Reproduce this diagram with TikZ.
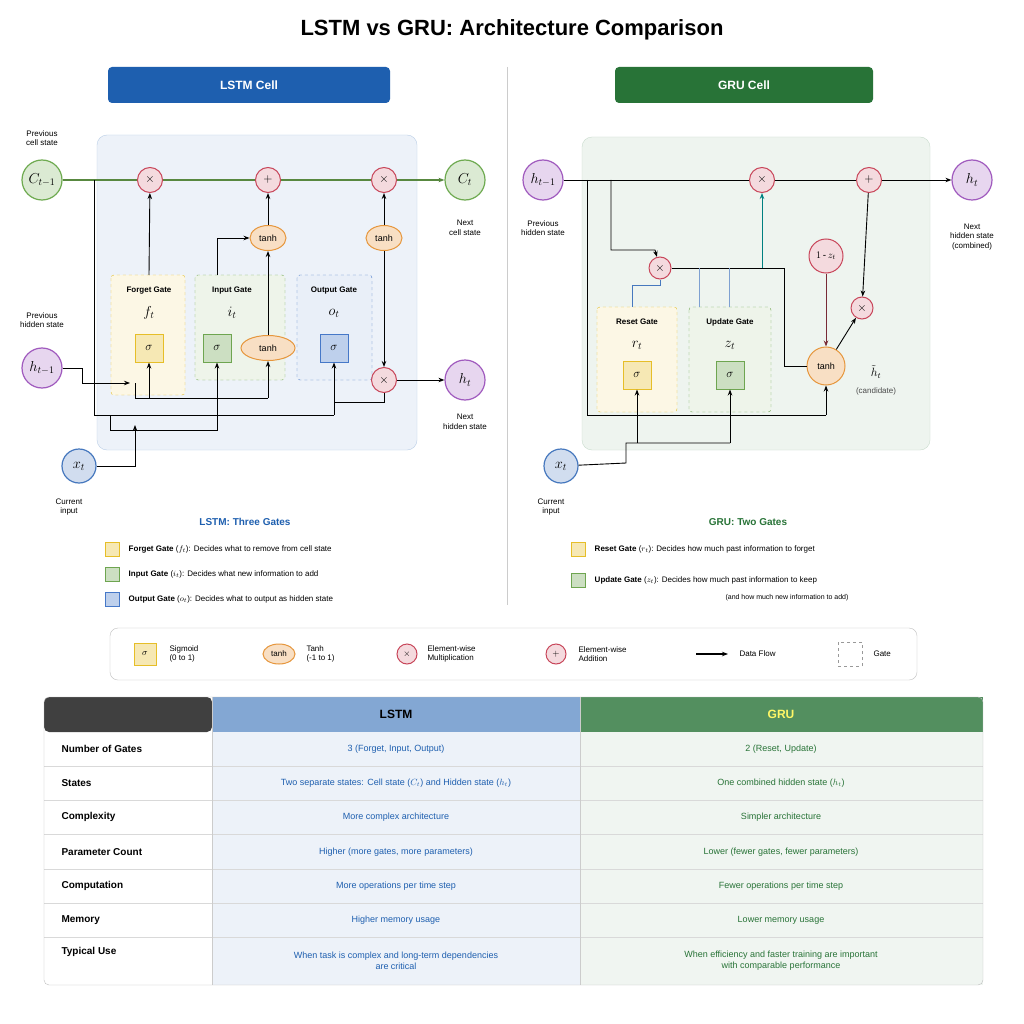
\documentclass[tikz,border=0pt]{standalone}
\usepackage{fontspec}
\setmainfont{Liberation Sans}
\usepackage{tikz}
\usetikzlibrary{arrows.meta,positioning,calc,shapes.geometric}
\definecolor{lstmblue}{RGB}{30,95,175}
\definecolor{grugreen}{RGB}{40,115,55}
\definecolor{cellgreen}{RGB}{110,170,80}
\definecolor{hidpurple}{RGB}{160,90,190}
\definecolor{xblue}{RGB}{70,120,190}
\definecolor{opred}{RGB}{200,70,90}
\definecolor{tanhorange}{RGB}{230,150,60}
\definecolor{gateyellow}{RGB}{230,190,40}
\definecolor{gategreen}{RGB}{110,165,80}
\definecolor{gateblue}{RGB}{70,120,200}
\tikzset{
  state/.style={draw=#1,line width=1.2pt,fill=#1!25,circle,minimum size=40pt,inner sep=0pt,font=\Large},
  op/.style={draw=opred,line width=1pt,fill=opred!20,circle,minimum size=25pt,inner sep=0pt,font=\bfseries\large},
  tanhnode/.style={draw=tanhorange,line width=1pt,fill=tanhorange!30,ellipse,minimum width=36pt,minimum height=25pt,inner sep=1pt,font=\small},
  sig/.style={draw=#1,line width=1pt,fill=#1!35,minimum size=28pt,inner sep=0pt,font=\large},
  gate/.style={draw=#1,dashed,fill=#1!12,rounded corners=3pt},
  lbl/.style={font=\footnotesize,align=center},
  wire/.style={line width=0.9pt,-{Stealth[length=6pt]}},
  plain/.style={line width=0.9pt},
  key/.style={draw=#1,fill=#1!35,minimum size=14pt,inner sep=0pt},
  cell/.style={font=\small}
}
\begin{document}
\begin{tikzpicture}[x=1pt,y=-1pt]
\useasboundingbox (0,0) rectangle (1024,1024);
\fill[white] (0,0) rectangle (1024,1024);
% title and banners
\node[font=\bfseries\fontsize{22}{26}\selectfont] (title) at (512,30) {LSTM vs GRU: Architecture Comparison};
\node[fill=lstmblue,rounded corners=4pt,minimum width=282pt,minimum height=36pt,text=white,font=\bfseries\large] (lstmhead) at (249,85) {LSTM Cell};
\node[fill=grugreen,rounded corners=4pt,minimum width=258pt,minimum height=36pt,text=white,font=\bfseries\large] (gruhead) at (744,85) {GRU Cell};
\draw[black!20] (507,67) -- (507,605);

%% LSTM cell
\draw[rounded corners=10pt,draw=lstmblue!30,fill=lstmblue!8] (97,135) rectangle (417,450);
\draw[gate=gateyellow] (111,275) rectangle (185,395);
\draw[gate=gategreen] (195,275) rectangle (285,380);
\draw[gate=gateblue] (297,275) rectangle (372,380);
\node[font=\footnotesize\bfseries] (fgt) at (149,291) {Forget Gate};
\node[font=\Large] (ft) at (149,313) {$f_t$};
\node[font=\footnotesize\bfseries] (igt) at (232,291) {Input Gate};
\node[font=\Large] (it) at (232,313) {$i_t$};
\node[font=\footnotesize\bfseries] (ogt) at (334,291) {Output Gate};
\node[font=\Large] (ot) at (334,313) {$o_t$};
\node[sig=gateyellow] (fsig) at (149,348) {$\sigma$};
\node[sig=gategreen] (isig) at (217,348) {$\sigma$};
\node[tanhnode,minimum width=54pt] (itanh) at (268,348) {tanh};
\node[sig=gateblue] (osig) at (334,348) {$\sigma$};

\node[state=cellgreen] (cprev) at (42,180) {$C_{t-1}$};
\node[state=cellgreen] (cnext) at (465,180) {$C_t$};
\node[op] (lmf) at (150,180) {$\times$};
\node[op] (lplus) at (268,180) {$+$};
\node[op] (lmo) at (384,180) {$\times$};
\node[tanhnode] (ctanh) at (268,238) {tanh};
\node[tanhnode] (otanh) at (384,238) {tanh};
\node[state=hidpurple] (hprev) at (42,368) {$h_{t-1}$};
\node[op] (lmh) at (384,380) {$\times$};
\node[state=hidpurple] (hnext) at (465,380) {$h_t$};
\node[state=xblue,minimum size=34pt] (xin) at (79,466) {$x_t$};
\node[lbl] (cprevl) at (42,138) {Previous\\cell state};
\node[lbl] (cnextl) at (465,228) {Next\\cell state};
\node[lbl] (hprevl) at (42,320) {Previous\\hidden state};
\node[lbl] (hnextl) at (465,422) {Next\\hidden state};
\node[lbl] (xinl) at (69,507) {Current\\input};

\draw[line width=1.2pt,draw=cellgreen!80!black] (cprev) -- (lmf) -- (lplus) -- (lmo);
\draw[wire,draw=cellgreen!80!black,line width=1.2pt] (lmo) -- (cnext);
\draw[wire] (149,275) -- (lmf);
\draw[wire] (217,275) |- (ctanh.west);
\draw[wire] (itanh) -- (ctanh);
\draw[wire] (ctanh) -- (lplus);
\draw[wire] (otanh) -- (lmo);
\draw[wire] (otanh) -- (lmh);
\draw[wire] (lmh) -- (hnext);
% input buses
\draw[wire] (hprev) -- (82,368) |- (130,383);
\draw[plain] (135,383) -- (135,398) -- (268,398);
\draw[wire] (149,398) -- (fsig);
\draw[wire] (217,398) -- (isig);
\draw[wire] (268,398) -- (itanh);
\draw[plain] (94,180) -- (94,415) -- (334,415);
\draw[wire] (334,415) -- (osig);
\draw[plain] (lmh) -- (384,402) -- (334,402);
\draw[plain] (110,415) -- (110,430) -- (217,430) -- (217,398);
\draw[wire] (xin) -- (135,466) -- (135,425);

%% GRU cell
\draw[rounded corners=10pt,draw=grugreen!25,fill=grugreen!8] (582,137) rectangle (930,450);
\draw[gate=gateyellow] (597,307) rectangle (677,412);
\draw[gate=gategreen] (689,307) rectangle (771,412);
\node[font=\footnotesize\bfseries] (rgt) at (637,322) {Reset Gate};
\node[font=\Large] (rt) at (637,345) {$r_t$};
\node[font=\footnotesize\bfseries] (ugt) at (730,322) {Update Gate};
\node[font=\Large] (zt) at (730,345) {$z_t$};
\node[sig=gateyellow] (rsig) at (637,375) {$\sigma$};
\node[sig=gategreen] (zsig) at (730,375) {$\sigma$};
\node[state=hidpurple] (ghprev) at (543,180) {$h_{t-1}$};
\node[state=hidpurple] (ghnext) at (972,180) {$h_t$};
\node[op] (gma) at (762,180) {$\times$};
\node[op] (gplus) at (869,180) {$+$};
\node[op,minimum size=22pt] (gmb) at (660,268) {$\times$};
\node[op,minimum size=34pt,font=\normalsize] (onez) at (826,256) {$1\,\mbox{-}\,z_t$};
\node[op,minimum size=22pt] (gmc) at (862,308) {$\times$};
\node[draw=tanhorange,line width=1pt,fill=tanhorange!30,circle,minimum size=38pt,inner sep=0pt,font=\small] (gtanh) at (826,366) {tanh};
\node[state=xblue,minimum size=34pt] (gxin) at (561,466) {$x_t$};
\node[lbl] (ghprevl) at (543,228) {Previous\\hidden state};
\node[lbl] (ghnextl) at (972,237) {Next\\hidden state\\(combined)};
\node[lbl] (gxinl) at (551,507) {Current\\input};
\node[font=\large] (htil) at (876,372) {$\tilde h_t$};
\node[lbl,text=black!70] (cand) at (876,391) {(candidate)};

\draw[plain] (ghprev) -- (gma) -- (gplus);
\draw[wire] (gplus) -- (ghnext);
\draw[wire] (611,180) |- (655,250) -- (gmb);
\draw[plain,draw=xblue] (632,307) -- (632,285) -| (gmb.south);
\draw[plain] (gmb) -- (784,268) |- (gtanh);
\draw[wire,draw=teal] (762,268) -- (gma);
\draw[plain,draw=xblue!70] (699,307) -- (699,268);
\draw[plain,draw=xblue!70] (729,307) -- (729,268);
\draw[wire,draw=opred!60!black] (onez) -- (gtanh);
\draw[wire] (gtanh) -- (gmc);
\draw[wire] (gplus) -- (gmc);
\draw[plain] (587,180) -- (587,415) -- (826,415);
\draw[wire] (826,415) -- (gtanh);
\draw[plain] (gxin) -- (626,463) |- (730,443);
\draw[wire] (637,443) -- (rsig);
\draw[wire] (730,443) -- (zsig);

%% gate notes
\node[font=\bfseries,text=lstmblue] (lnote) at (245,522) {LSTM: Three Gates};
\node[key=gateyellow] (k1) at (112,549) {};
\node[key=gategreen] (k2) at (112,574) {};
\node[key=gateblue] (k3) at (112,599) {};
\node[right=6pt of k1,font=\footnotesize] (k1t) {\textbf{Forget Gate} ($f_t$): Decides what to remove from cell state};
\node[right=6pt of k2,font=\footnotesize] (k2t) {\textbf{Input Gate} ($i_t$): Decides what new information to add};
\node[right=6pt of k3,font=\footnotesize] (k3t) {\textbf{Output Gate} ($o_t$): Decides what to output as hidden state};
\node[font=\bfseries,text=grugreen] (gnote) at (748,522) {GRU: Two Gates};
\node[key=gateyellow] (k4) at (578,549) {};
\node[key=gategreen] (k5) at (578,580) {};
\node[right=6pt of k4,font=\footnotesize] (k4t) {\textbf{Reset Gate} ($r_t$): Decides how much past information to forget};
\node[right=6pt of k5,font=\footnotesize] (k5t) {\textbf{Update Gate} ($z_t$): Decides how much past information to keep};
\node[font=\scriptsize] (k5u) at (787,598) {(and how much new information to add)};

%% symbol legend
\draw[rounded corners=8pt,draw=black!25] (110,628) rectangle (917,680);
\node[sig=gateyellow,minimum size=22pt,font=\small] (ls) at (145,654) {$\sigma$};
\node[lbl,align=left,anchor=west] (lst) at (166,654) {Sigmoid\\(0 to 1)};
\node[tanhnode,minimum width=32pt,minimum height=20pt,font=\footnotesize] (lt) at (279,654) {tanh};
\node[lbl,align=left,anchor=west] (ltt) at (303,654) {Tanh\\(-1 to 1)};
\node[op,minimum size=20pt,font=\small\bfseries] (lm) at (407,654) {$\times$};
\node[lbl,align=left,anchor=west] (lmt) at (424,654) {Element-wise\\Multiplication};
\node[op,minimum size=20pt,font=\small\bfseries] (lp) at (556,654) {$+$};
\node[lbl,align=left,anchor=west] (lpt) at (575,654) {Element-wise\\Addition};
\coordinate (la) at (696,654);
\coordinate (lb) at (728,654);
\draw[wire,line width=1.2pt] (la) -- (lb);
\node[lbl,anchor=west] (lat) at (736,654) {Data Flow};
\node[draw=black!40,dashed,minimum size=24pt] (lg) at (850,654) {};
\node[lbl,anchor=west] (lgt) at (870,654) {Gate};

%% comparison table
\fill[lstmblue!8] (212,732) rectangle (580,985);
\fill[grugreen!7] (580,732) rectangle (983,985);
\fill[black!75,rounded corners=5pt] (44,697) rectangle (212,732);
\fill[lstmblue!55] (212,697) rectangle (580,732);
\fill[grugreen!80] (580,697) rectangle (983,732);
\node[font=\bfseries\large] (th1) at (396,714) {LSTM};
\node[font=\bfseries\large,text=yellow!60!white] (th2) at (781,714) {GRU};
\foreach \y in {766,800,834,869,903,937}
  \draw[black!15] (44,\y) -- (983,\y);
\draw[black!20] (212,697) -- (212,985);
\draw[black!20] (580,697) -- (580,985);
\draw[black!25,rounded corners=5pt] (44,697) rectangle (983,985);
\foreach \y/\a/\b/\c in {
  749/Number of Gates/{3 (Forget, Input, Output)}/{2 (Reset, Update)},
  783/States/{Two separate states: Cell state ($C_t$) and Hidden state ($h_t$)}/{One combined hidden state ($h_t$)},
  817/Complexity/More complex architecture/Simpler architecture,
  852/Parameter Count/{Higher (more gates, more parameters)}/{Lower (fewer gates, fewer parameters)},
  886/Computation/More operations per time step/Fewer operations per time step,
  920/Memory/Higher memory usage/Lower memory usage}{
  \node[font=\bfseries,anchor=west] at (58,\y) {\a};
  \node[cell,text=lstmblue] at (396,\y) {\b};
  \node[cell,text=grugreen] at (781,\y) {\c};
}
\node[font=\bfseries,anchor=west] (tu) at (58,952) {Typical Use};
\node[cell,text=lstmblue,align=center] (tul) at (396,961) {When task is complex and long-term dependencies\\are critical};
\node[cell,text=grugreen,align=center] (tug) at (781,961) {When efficiency and faster training are important\\with comparable performance};
\end{tikzpicture}
\end{document}
